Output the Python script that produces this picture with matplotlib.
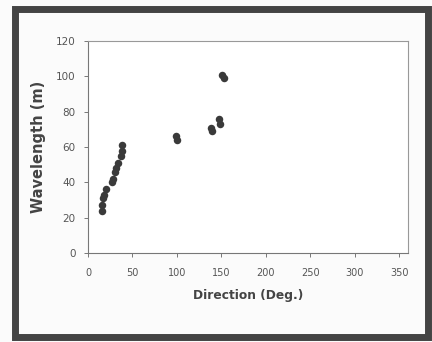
import matplotlib.pyplot as plt
from matplotlib.patches import Rectangle

# data
direction = [16, 16, 17, 18, 20, 27, 28, 30, 31, 34, 37, 38, 38,
             99, 100, 138, 139, 147, 148, 151, 153]
wavelength = [24, 27, 31, 33, 36, 40, 42, 46, 48, 51, 55, 58, 61,
              66, 64, 71, 69, 76, 73, 101, 99]
x_ticks = [0, 50, 100, 150, 200, 250, 300, 350]
y_ticks = [0, 20, 40, 60, 80, 100, 120]

fig = plt.figure(figsize=(4.32, 3.42), dpi=100)
fig.patch.set_facecolor('#fbfbfb')

# dark frame around the chart
frame = Rectangle((15 / 432, 5 / 342), 413 / 432, 328 / 342,
                  transform=fig.transFigure, fill=False,
                  edgecolor='#444444', linewidth=5)
fig.add_artist(frame)

ax = fig.add_axes([88 / 432, 1 - 253 / 342, 320 / 432, 212 / 342])
ax.set_facecolor('white')

ax.plot(direction, wavelength, 'o', color='#3a3a3a',
        markersize=5.4, markeredgewidth=0)

ax.set_xlim(0, 360)
ax.set_ylim(0, 120)
ax.set_xticks(x_ticks)
ax.set_yticks(y_ticks)

for side in ['top', 'right']:
    ax.spines[side].set_color('#999999')
    ax.spines[side].set_linestyle((0, (1, 1)))
    ax.spines[side].set_linewidth(0.8)
for side in ['left', 'bottom']:
    ax.spines[side].set_color('#777777')
    ax.spines[side].set_linewidth(0.8)

ax.tick_params(direction='out', length=3, width=0.7, color='#777777',
               labelsize=7, labelcolor='#555555')
ax.tick_params(axis='x', pad=8)
ax.tick_params(axis='y', pad=6, labelsize=7.5)

ax.set_xlabel('Direction (Deg.)', fontsize=8.8, fontweight='bold',
              color='#444444', labelpad=8)
ax.set_ylabel('Wavelength (m)', fontsize=10.5, fontweight='bold',
              color='#444444', labelpad=7)

fig.savefig('out.png', dpi=100, facecolor=fig.get_facecolor())
